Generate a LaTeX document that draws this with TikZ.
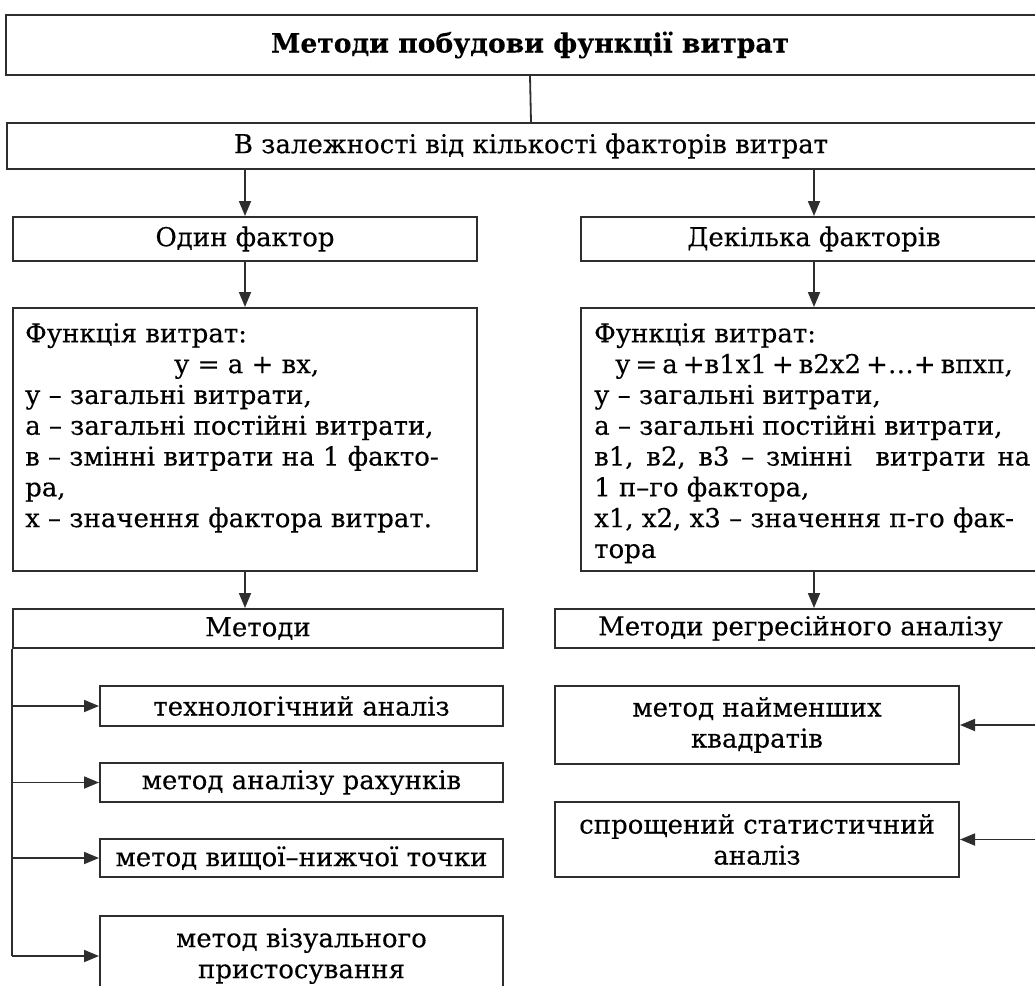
\documentclass[tikz,border=0pt]{standalone}
\usepackage{fontspec}
\setmainfont{DejaVu Serif}[FakeBold=0.25]
\usetikzlibrary{arrows.meta}
\newcommand{\tightgap}{\hspace{5pt}}
\begin{document}
\begin{tikzpicture}[x=1pt,y=-1pt,
  box/.style={draw=black!82, line width=2pt, inner sep=0pt, align=center,
    font=\fontsize{26}{31}\selectfont, text=black},
  body/.style={anchor=north west, align=left, inner sep=0pt,
    font=\fontsize{26}{30.8}\selectfont, text=black},
  ln/.style={draw=black!82, line width=1.8pt},
  arr/.style={ln, -{Triangle[width=12pt,length=15pt]}}]
\useasboundingbox (0,0) rectangle (1035,985);
\clip (0,0) rectangle (1035,985);
\fill[white] (0,0) rectangle (1035,985);

% top levels
\node[box, minimum width=1048pt, minimum height=60pt,
  font=\bfseries\fontsize{26.6}{29}\selectfont] (title) at (530,45)
  {Методи побудови функції витрат};
\node[box, minimum width=1048pt, minimum height=46pt] (split) at (531,146)
  {В залежності від кількості факторів витрат};

% two branches
\node[box, minimum width=464pt, minimum height=44pt] (one) at (245,239) {Один фактор};
\node[box, minimum width=466pt, minimum height=44pt] (many) at (814,239) {Декілька факторів};

\node[box, minimum width=464pt, minimum height=263pt] (fL) at (245,439.5) {};
\node[box, minimum width=466pt, minimum height=263pt] (fR) at (814,439.5) {};

\node[body] (fLtext) at (25,323) {Функція витрат:\\
\hspace*{149pt}у = а + вх,\\
у – загальні витрати,\\
а – загальні постійні витрати,\\
в – змінні витрати на 1 факто-\\
ра,\\
х – значення фактора витрат.};

\node[body] (fRtext) at (594,323) {Функція витрат:\\
\hspace*{21pt}у\tightgap=\tightgap а\tightgap+в1х1\tightgap+\tightgap в2х2\tightgap+…+\tightgap впхп,\\
у – загальні витрати,\\
а – загальні постійні витрати,\\
\makebox[436pt][s]{в1, в2, в3 – змінні \ витрати на}\\
1 п–го фактора,\\
х1, х2, х3 – значення п-го фак-\\
тора};

% method headers
\node[box, minimum width=490pt, minimum height=39pt] (metL) at (258,628.5) {Методи};
\node[box, minimum width=491pt, minimum height=39pt] (metR) at (800.5,628.5) {Методи регресійного аналізу};

% left methods
\node[box, minimum width=403pt, minimum height=40pt] (t1) at (301.5,706) {технологічний аналіз};
\node[box, minimum width=403pt, minimum height=39pt] (t2) at (301.5,782.5) {метод аналізу рахунків};
\node[box, minimum width=403pt, minimum height=38pt] (t3) at (301.5,858) {метод вищої–нижчої точки};
\node[box, minimum width=403pt, minimum height=80pt] (t4) at (301.5,956) {метод візуального\\пристосування};

% right methods
\node[box, minimum width=404pt, minimum height=78pt] (r1) at (757,725) {метод найменших\\квадратів};
\node[box, minimum width=404pt, minimum height=75pt] (r2) at (757,839.5) {спрощений статистичний\\аналіз};

% connectors
\draw[ln] (title.south) -- (split.north);
\draw[arr] (split.south -| one.north) -- (one.north);
\draw[arr] (split.south -| many.north) -- (many.north);
\draw[arr] (one.south) -- (fL.north);
\draw[arr] (many.south) -- (fR.north);
\draw[arr] (fL.south) -- (fL.south |- metL.north);
\draw[arr] (fR.south) -- (fR.south |- metR.north);

\draw[ln] (metL.south west) -- (metL.south west |- t4.west);
\foreach \t in {t1,t2,t3,t4}
  \draw[arr] (metL.south west |- \t.west) -- (\t.west);

\draw[ln] (metR.south east) -- (metR.south east |- r2.east);
\foreach \r in {r1,r2}
  \draw[arr] (metR.south east |- \r.east) -- (\r.east);
\end{tikzpicture}
\end{document}
